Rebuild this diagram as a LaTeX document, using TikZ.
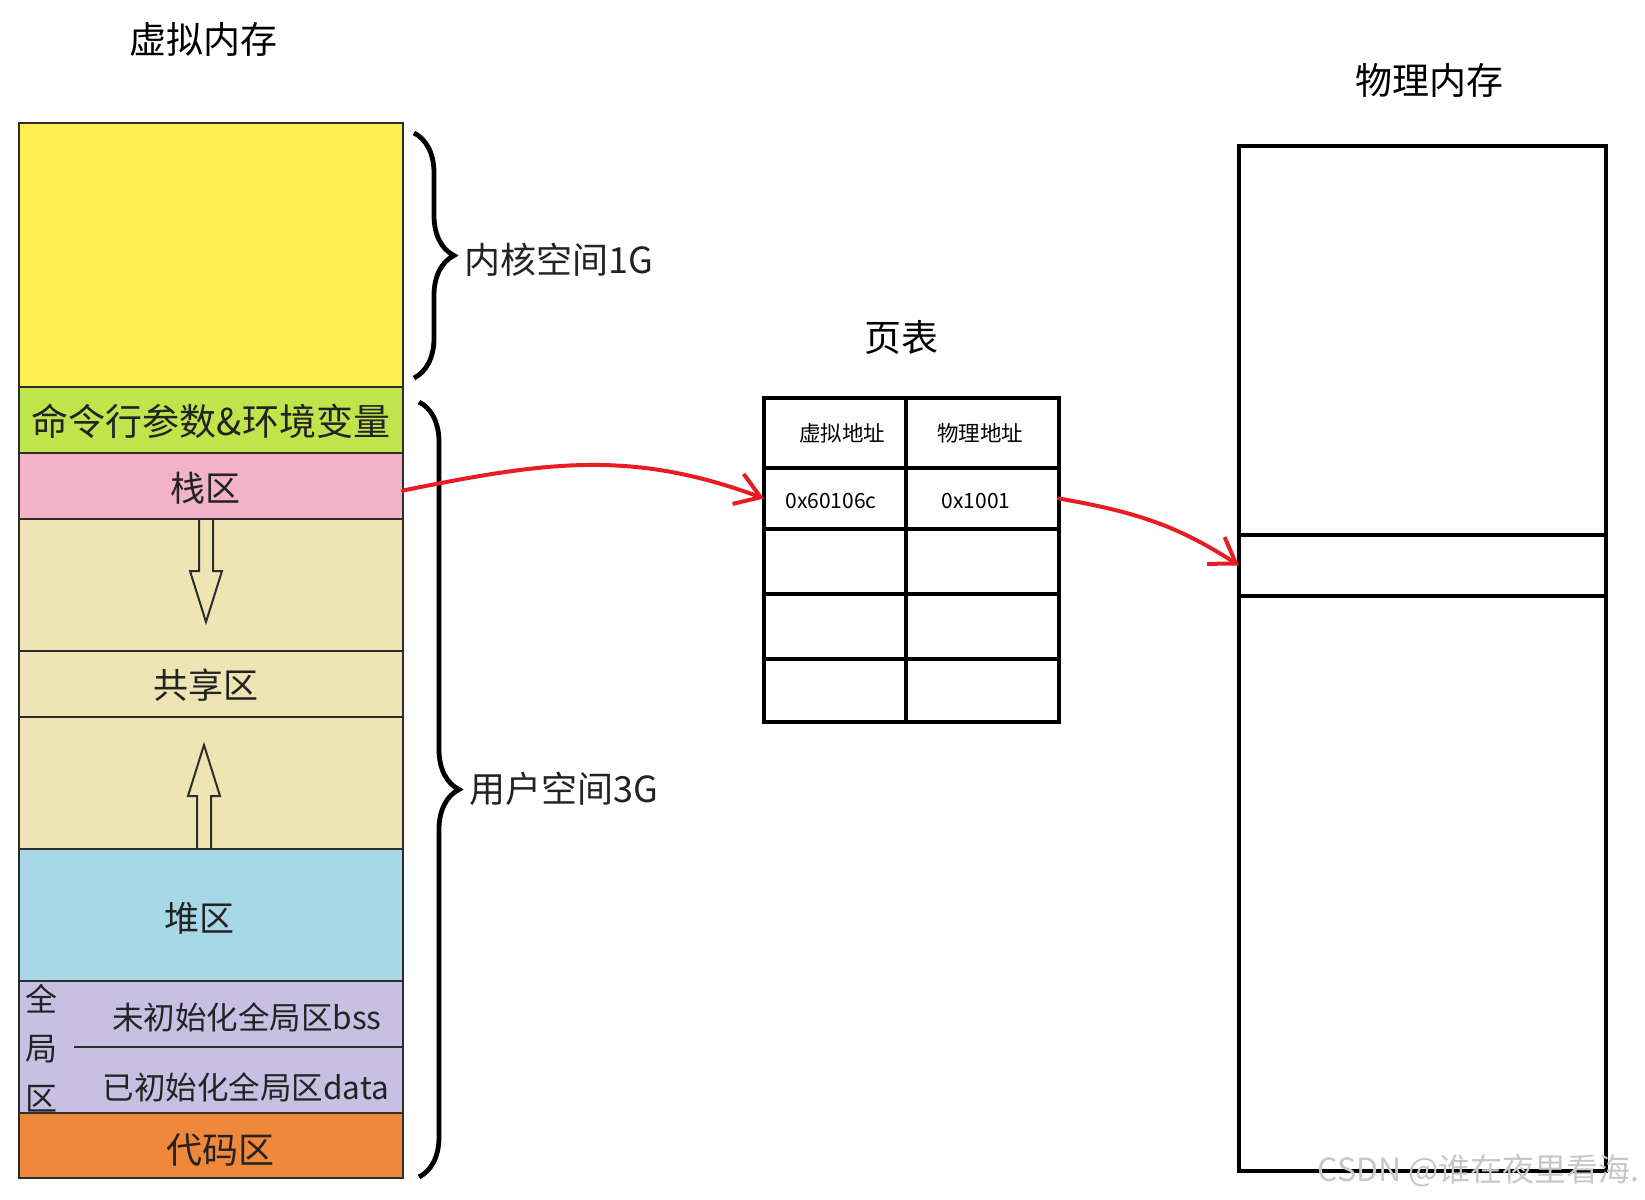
\documentclass[tikz,border=0pt]{standalone}
\usepackage{fontspec}
\setmainfont{Noto Sans CJK SC}
\usetikzlibrary{arrows.meta,decorations.pathreplacing,calc}
\definecolor{kernY}{RGB}{255,238,80}
\definecolor{envG}{RGB}{192,228,76}
\definecolor{stkP}{RGB}{242,178,200}
\definecolor{gapB}{RGB}{238,228,180}
\definecolor{heapB}{RGB}{166,216,232}
\definecolor{globP}{RGB}{199,192,227}
\definecolor{codeO}{RGB}{240,136,60}
\definecolor{segline}{RGB}{45,45,45}
\definecolor{lbltext}{RGB}{35,35,35}
\definecolor{redline}{RGB}{232,28,36}
\begin{document}
\begin{tikzpicture}[x=1pt,y=-1pt,
  seg/.style={draw=segline, line width=2pt, inner sep=0pt, outer sep=0pt, minimum width=384pt},
  lbl/.style={inner sep=0pt, text=lbltext, font=\fontsize{35}{40}\selectfont},
  slbl/.style={inner sep=0pt, text=lbltext, font=\fontsize{31.5}{34}\selectfont},
  ttl/.style={inner sep=0pt, font=\fontsize{37}{40}\selectfont},
  bracelbl/.style={inner sep=0pt, anchor=west, text=lbltext, font=\fontsize{36}{40}\selectfont},
  cell/.style={draw, line width=4.5pt, inner sep=0pt, outer sep=0pt},
  colA/.style={cell, minimum width=142pt},
  colB/.style={cell, minimum width=153pt},
  hdrtxt/.style={inner sep=0pt, font=\fontsize{21.5}{24}\selectfont},
  valtxt/.style={inner sep=0pt, font=\fontsize{21}{24}\selectfont},
  phys/.style={draw, line width=4.5pt, inner sep=0pt, outer sep=0pt, minimum width=367pt},
  hollow/.style={draw=segline, line width=2pt, line join=miter},
  brc/.style={draw, line width=4.8pt, decorate, decoration={brace, amplitude=40pt}},
  redarrow/.style={draw=redline, line width=4pt, line cap=round, -{Straight Barb[length=24pt,width=32pt]}}
]
\useasboundingbox (0,0) rectangle (1645,1199);

% titles
\node[ttl] (tvirt) at (203,39) {虚拟内存};
\node[ttl] (tpt) at (901,337) {页表};
\node[ttl] (tphys) at (1429,80) {物理内存};

% virtual memory column
\node[seg, fill=kernY, minimum height=264pt] (kern) at (211,255) {};
\node[seg, fill=envG, minimum height=66pt] (env) at (211,419.5) {};
\node[seg, fill=stkP, minimum height=66pt] (stk) at (211,485.5) {};
\node[seg, fill=gapB, minimum height=133pt] (gap1) at (211,585) {};
\node[seg, fill=gapB, minimum height=66pt] (shr) at (211,684) {};
\node[seg, fill=gapB, minimum height=132pt] (gap2) at (211,783) {};
\node[seg, fill=heapB, minimum height=132pt] (heap) at (211,915) {};
\node[seg, fill=globP, minimum height=132pt] (glob) at (211,1047) {};
\node[seg, fill=codeO, minimum height=65pt] (code) at (211,1145.5) {};

\draw[segline, line width=2pt] (74,1047) -- (403,1047);

\node[lbl, font=\fontsize{37}{40}\selectfont] (lenv) at (211,421) {命令行参数\&环境变量};
\node[lbl] (lstk) at (205,488) {栈区};
\node[lbl] (lshr) at (206,685) {共享区};
\node[lbl] (lheap) at (199,918) {堆区};
\node[lbl, font=\fontsize{36}{40}\selectfont] (lcode) at (220,1150) {代码区};
\node[slbl] (lbss) at (247,1017) {未初始化全局区bss};
\node[slbl] (ldata) at (246,1087) {已初始化全局区data};
\node[inner sep=0pt, text=lbltext, font=\fontsize{32}{49.5}\selectfont, align=center] (lglob) at (41,1048) {全\\局\\区};

% hollow arrows
\draw[hollow] (199,518) -- (199,571) -- (190,571) -- (206,622) -- (222,571) -- (213,571) -- (213,518);
\draw[hollow] (197,849) -- (197,796) -- (188,796) -- (204,745) -- (220,796) -- (211,796) -- (211,849);

% braces
\draw[brc] (414,133) -- (414,378);
\draw[brc] (419,402) -- (419,1177);
\node[bracelbl] (lkern) at (464,260) {内核空间1G};
\node[bracelbl] (luser) at (469,789) {用户空间3G};

% page table
\node[colA, minimum height=70pt] (r0a) at (835,433) {};
\node[colB, minimum height=70pt] (r0b) at (982.5,433) {};
\node[colA, minimum height=61pt] (r1a) at (835,498.5) {};
\node[colB, minimum height=61pt] (r1b) at (982.5,498.5) {};
\node[colA, minimum height=65pt] (r2a) at (835,561.5) {};
\node[colB, minimum height=65pt] (r2b) at (982.5,561.5) {};
\node[colA, minimum height=65pt] (r3a) at (835,626.5) {};
\node[colB, minimum height=65pt] (r3b) at (982.5,626.5) {};
\node[colA, minimum height=63pt] (r4a) at (835,690.5) {};
\node[colB, minimum height=63pt] (r4b) at (982.5,690.5) {};
\node[hdrtxt] (t0a) at (842,433) {虚拟地址};
\node[hdrtxt] (t0b) at (980,433) {物理地址};
\node[valtxt] (t1a) at (831,501) {0x60106c};
\node[valtxt] (t1b) at (976,501) {0x1001};

% physical memory
\node[phys, minimum height=389pt] (phtop) at (1422.5,340.5) {};
\node[phys, minimum height=61pt] (phslot) at (1422.5,565.5) {};
\node[phys, minimum height=575pt] (phbot) at (1422.5,883.5) {};

% red connectors
\draw[redarrow] ($(stk.east)+(0,5)$) .. controls +(140,-28) and +(-135,-50) .. (r1a.west);
\draw[redarrow] (r1b.east) .. controls +(74,13) and +(-63,-41) .. (phslot.west);

% watermark
\node[inner sep=0pt, anchor=east, text=black!22, font=\fontsize{32}{34}\selectfont] (wm) at (1640,1171) {CSDN @谁在夜里看海.};
\end{tikzpicture}
\end{document}
